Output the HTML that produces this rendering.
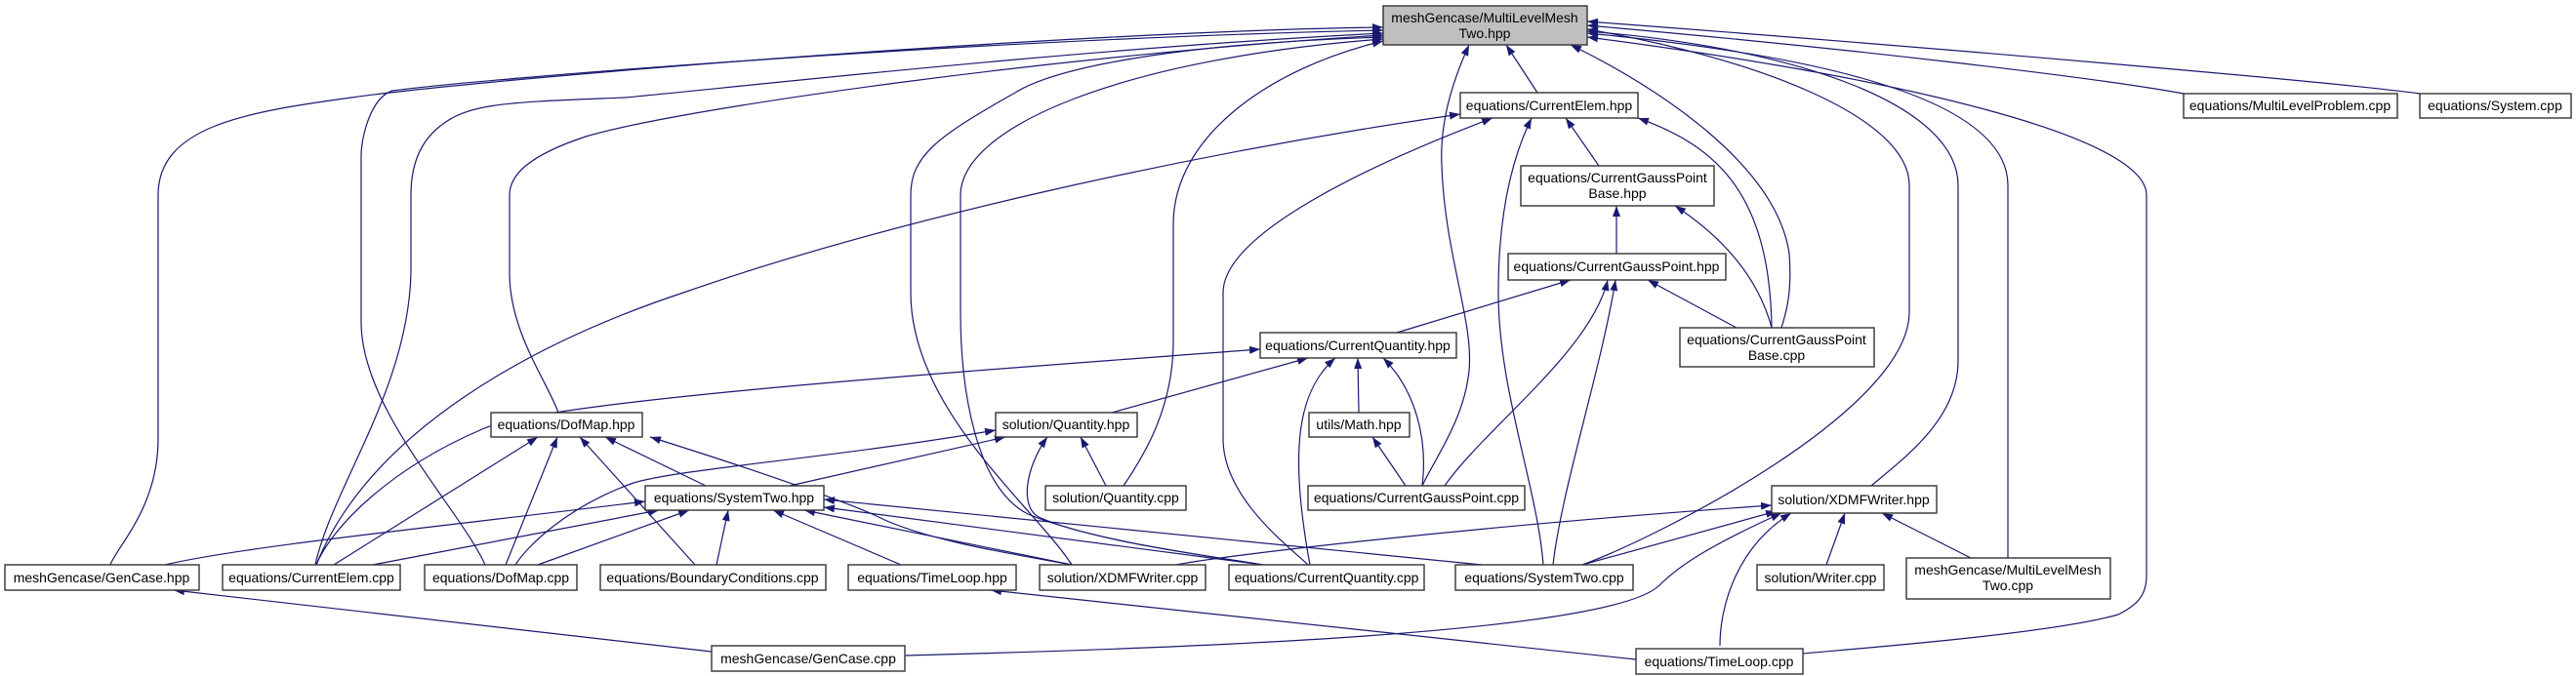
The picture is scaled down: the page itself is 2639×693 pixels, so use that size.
<!DOCTYPE html>
<html><head><meta charset="utf-8"><style>
html,body{margin:0;padding:0;background:#fff;}
svg{display:block;}
text{font-family:"Liberation Sans",Arial,sans-serif;font-size:14px;fill:#000;}
</style></head><body>
<svg width="2639" height="693" viewBox="0 0 2639 693" xmlns="http://www.w3.org/2000/svg">
<defs>
<marker id="a" markerWidth="11" markerHeight="8" refX="11" refY="4" orient="auto-start-reverse" markerUnits="userSpaceOnUse">
<path d="M0,0 L11,4 L0,8 z" fill="#191970"/>
</marker>
</defs>
<g fill="none" stroke="#191970" stroke-width="1.2" marker-start="url(#a)">
<path d="M1417,28 C1100,32 500,80 360,100 C250,115 162,130 162,200 L162,450 C162,520 120,560 113,579"/>
<path d="M1417,31 C1000,40 500,80 402,93 C380,100 370,140 370,160 L370,330 C370,420 470,520 497,579"/>
<path d="M1417,34 C1100,50 750,90 640,100 C520,105 480,105 450,130 C425,150 421,180 421,200 L421,280 C418,400 340,500 323,579"/>
<path d="M1417,36 C1100,55 700,110 600,140 C540,160 522,180 522,200 L522,280 C522,340 560,390 572,423"/>
<path d="M1417,38 C1200,45 1080,70 1040,95 C960,140 933,160 933,200 L933,300 C933,420 1060,520 1098,579"/>
<path d="M1417,40 C1150,60 984,130 984,200 L984,320 C984,400 1000,500 1053,527 C1120,555 1240,570 1294,579"/>
<path d="M1417,42 C1300,70 1202,140 1202,230 L1202,350 C1202,420 1170,470 1151,498"/>
<path d="M1505,46 C1485,90 1475,130 1477,170 C1480,260 1510,330 1505,380 C1500,430 1470,470 1457,498"/>
<path d="M1543,46 L1575,95"/>
<path d="M1609,46 C1700,90 1820,170 1833,260 C1836,300 1830,320 1825,336"/>
<path d="M1626,30 C1800,60 1956,120 1956,190 L1956,320 C1956,420 1700,550 1621,579"/>
<path d="M1626,32 C1850,50 2006,110 2006,190 L2006,370 C2006,430 1950,470 1917,498"/>
<path d="M1626,34 C1900,60 2057,110 2057,190 L2057,572"/>
<path d="M1626,38 C1950,80 2199,140 2199,200 L2199,590 C2199,610 2190,620 2170,630 C2100,650 1900,665 1847,670"/>
<path d="M1626,26 C1900,50 2150,80 2237,96"/>
<path d="M1626,22 C2000,50 2400,85 2479,96"/>
<path d="M1496,117 C1200,160 900,230 700,300 C550,350 380,440 324,579"/>
<path d="M1529,121 C1400,170 1253,240 1253,300 L1253,450 C1253,510 1320,560 1340,579"/>
<path d="M1569,121 C1545,170 1535,230 1535,300 C1535,400 1575,500 1581,579"/>
<path d="M1604,121 L1638,170"/>
<path d="M1678,121 C1760,150 1813,200 1815,336"/>
<path d="M1656,211 L1656,260"/>
<path d="M1716,211 C1760,240 1800,280 1815,336"/>
<path d="M1609,287 L1431,341"/>
<path d="M1647,287 C1630,360 1520,440 1480,498"/>
<path d="M1655,287 C1640,380 1600,500 1591,579"/>
<path d="M1688,287 L1779,336"/>
<path d="M1291,358 C1000,380 560,410 494,440 C400,480 340,540 324,579"/>
<path d="M1340,367 L1139,423"/>
<path d="M1368,367 C1330,400 1320,460 1342,579"/>
<path d="M1391,367 L1392,423"/>
<path d="M1417,367 C1450,400 1463,450 1457,498"/>
<path d="M1020,441 C850,470 700,480 649,495 C580,520 540,560 528,579"/>
<path d="M1030,448 L809,498"/>
<path d="M1073,448 C1050,480 1045,520 1064,530 C1120,555 1240,570 1294,579"/>
<path d="M1107,448 L1133,498"/>
<path d="M1406,448 L1440,498"/>
<path d="M551,448 L342,579"/>
<path d="M571,448 L518,579"/>
<path d="M594,448 L712,579"/>
<path d="M620,448 L723,498"/>
<path d="M666,448 C800,490 880,520 900,530 C950,555 1050,570 1098,579"/>
<path d="M661,514 C450,540 250,560 169,579"/>
<path d="M675,523 L382,579"/>
<path d="M706,523 L551,579"/>
<path d="M746,523 L734,579"/>
<path d="M792,523 L923,579"/>
<path d="M824,523 L1098,579"/>
<path d="M844,520 L1294,579"/>
<path d="M844,512 L1518,579"/>
<path d="M1815,518 C1500,540 1250,570 1205,579"/>
<path d="M1820,524 L1621,579"/>
<path d="M1825,526 C1750,560 1720,580 1700,600 C1650,650 1200,665 927,672"/>
<path d="M1835,526 C1780,560 1762,620 1762,662"/>
<path d="M1890,526 L1871,579"/>
<path d="M1928,526 L2019,572"/>
<path d="M1015,605 L1676,676"/>
<path d="M178,605 L729,668"/>
</g>
<g stroke="#333" stroke-width="1.4">
<rect x="1417" y="6" width="209" height="40" fill="#bfbfbf"/>
<rect x="1496" y="95" width="182" height="26" fill="#fff"/>
<rect x="1558" y="170" width="198" height="41" fill="#fff"/>
<rect x="1545" y="260" width="223" height="27" fill="#fff"/>
<rect x="1721" y="336" width="199" height="40" fill="#fff"/>
<rect x="2237" y="96" width="219" height="25" fill="#fff"/>
<rect x="2479" y="96" width="155" height="25" fill="#fff"/>
<rect x="1291" y="341" width="201" height="26" fill="#fff"/>
<rect x="1020" y="423" width="145" height="25" fill="#fff"/>
<rect x="1341" y="423" width="103" height="25" fill="#fff"/>
<rect x="503" y="423" width="155" height="25" fill="#fff"/>
<rect x="1071" y="498" width="144" height="25" fill="#fff"/>
<rect x="1340" y="498" width="222" height="25" fill="#fff"/>
<rect x="661" y="498" width="183" height="25" fill="#fff"/>
<rect x="1815" y="498" width="169" height="28" fill="#fff"/>
<rect x="5" y="579" width="199" height="26" fill="#fff"/>
<rect x="228" y="579" width="182" height="26" fill="#fff"/>
<rect x="435" y="579" width="156" height="26" fill="#fff"/>
<rect x="615" y="579" width="231" height="26" fill="#fff"/>
<rect x="869" y="579" width="172" height="26" fill="#fff"/>
<rect x="1065" y="579" width="170" height="26" fill="#fff"/>
<rect x="1259" y="579" width="200" height="26" fill="#fff"/>
<rect x="1491" y="579" width="182" height="26" fill="#fff"/>
<rect x="1800" y="579" width="130" height="26" fill="#fff"/>
<rect x="1953" y="572" width="209" height="42" fill="#fff"/>
<rect x="729" y="662" width="198" height="26" fill="#fff"/>
<rect x="1676" y="665" width="171" height="26" fill="#fff"/>
</g>
<g text-anchor="middle">
<text x="1521" y="23">meshGencase/MultiLevelMesh</text>
<text x="1521" y="39">Two.hpp</text>
<text x="1587" y="113">equations/CurrentElem.hpp</text>
<text x="1657" y="187">equations/CurrentGaussPoint</text>
<text x="1657" y="203">Base.hpp</text>
<text x="1656" y="278">equations/CurrentGaussPoint.hpp</text>
<text x="1820" y="353">equations/CurrentGaussPoint</text>
<text x="1820" y="369">Base.cpp</text>
<text x="2346" y="113">equations/MultiLevelProblem.cpp</text>
<text x="2556" y="113">equations/System.cpp</text>
<text x="1391" y="359">equations/CurrentQuantity.hpp</text>
<text x="1092" y="440">solution/Quantity.hpp</text>
<text x="1392" y="440">utils/Math.hpp</text>
<text x="580" y="440">equations/DofMap.hpp</text>
<text x="1143" y="515">solution/Quantity.cpp</text>
<text x="1451" y="515">equations/CurrentGaussPoint.cpp</text>
<text x="752" y="515">equations/SystemTwo.hpp</text>
<text x="1899" y="517">solution/XDMFWriter.hpp</text>
<text x="104" y="597">meshGencase/GenCase.hpp</text>
<text x="319" y="597">equations/CurrentElem.cpp</text>
<text x="513" y="597">equations/DofMap.cpp</text>
<text x="730" y="597">equations/BoundaryConditions.cpp</text>
<text x="955" y="597">equations/TimeLoop.hpp</text>
<text x="1150" y="597">solution/XDMFWriter.cpp</text>
<text x="1359" y="597">equations/CurrentQuantity.cpp</text>
<text x="1582" y="597">equations/SystemTwo.cpp</text>
<text x="1865" y="597">solution/Writer.cpp</text>
<text x="2057" y="589">meshGencase/MultiLevelMesh</text>
<text x="2057" y="605">Two.cpp</text>
<text x="828" y="680">meshGencase/GenCase.cpp</text>
<text x="1761" y="683">equations/TimeLoop.cpp</text>
</g>
</svg>
</body></html>
